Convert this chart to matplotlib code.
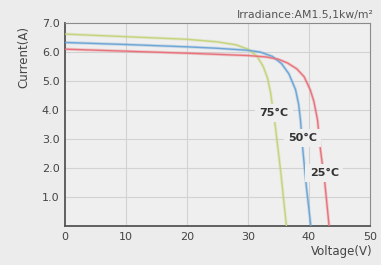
import matplotlib.pyplot as plt

# =========================
# I-V CURVE DATA
# =========================
v_25 = [0, 10, 20, 30, 33, 35, 36.5, 38, 39.2, 40.2, 40.8, 41.4, 41.9, 42.6, 43.3]
i_25 = [6.10, 6.03, 5.96, 5.88, 5.83, 5.75, 5.62, 5.42, 5.15, 4.70, 4.30, 3.66, 2.60, 1.48, 0.0]

v_50 = [0, 10, 20, 25, 30, 32, 34, 35.5, 36.7, 37.8, 38.3, 38.6, 39.0, 39.6, 40.3]
i_50 = [6.33, 6.26, 6.18, 6.13, 6.06, 6.00, 5.85, 5.60, 5.25, 4.70, 4.20, 3.66, 2.60, 1.30, 0.0]

v_75 = [0, 10, 20, 25, 28, 30, 31.5, 32.5, 33.2, 33.7, 34.5, 35.4, 36.3]
i_75 = [6.62, 6.53, 6.44, 6.35, 6.25, 6.10, 5.85, 5.50, 5.10, 4.60, 3.40, 1.80, 0.0]

curves = [
    (v_75, i_75, "#c5d47e", "75°C", (34.3, 3.90)),
    (v_50, i_50, "#6ea6d6", "50°C", (38.9, 3.03)),
    (v_25, i_25, "#e8737c", "25°C", (42.5, 1.83)),
]

x_ticks = [0, 10, 20, 30, 40, 50]
y_ticks = [1.0, 2.0, 3.0, 4.0, 5.0, 6.0, 7.0]

BG = "#ececec"

fig = plt.figure(figsize=(3.81, 2.65), dpi=100, facecolor=BG)
ax = fig.add_axes([0.171, 0.147, 0.800, 0.766], facecolor="#efefef")

for v, i, col, lab, pos in curves:
    ax.plot(v, i, color=col, lw=2.2, alpha=0.3, solid_capstyle="butt", zorder=2)
    ax.plot(v, i, color=col, lw=1.0, zorder=3)
    ax.text(pos[0], pos[1], lab, fontsize=8, fontweight="bold", color="#333333",
            ha="center", va="center", zorder=5,
            bbox=dict(facecolor="#efefef", edgecolor="none", pad=3.0))

ax.set_xlim(0, 50)
ax.set_ylim(0, 7)
ax.set_xticks(x_ticks)
ax.set_yticks(y_ticks)
ax.set_xticklabels([str(t) for t in x_ticks])
ax.set_yticklabels([f"{t:.1f}" for t in y_ticks])
ax.tick_params(length=0, labelsize=8, labelcolor="#444444", pad=4)

for t in x_ticks[1:-1]:
    ax.axvline(t, color="#d2d2d2", lw=0.8, zorder=1)
for t in y_ticks[:-1]:
    ax.axhline(t, color="#d2d2d2", lw=0.8, zorder=1)

ax.spines["left"].set_color("#555555")
ax.spines["bottom"].set_color("#555555")
ax.spines["left"].set_linewidth(1.3)
ax.spines["bottom"].set_linewidth(1.3)
ax.spines["top"].set_color("#8a8a8a")
ax.spines["right"].set_color("#8a8a8a")
ax.spines["top"].set_linewidth(0.8)
ax.spines["right"].set_linewidth(0.8)

fig.text(0.980, 0.945, "Irradiance:AM1.5,1kw/m²", fontsize=7.8, color="#555555",
         ha="right", va="center")
fig.text(0.062, 0.785, "Current(A)", fontsize=8.5, color="#444444",
         rotation=90, ha="center", va="center")
fig.text(0.977, 0.05, "Voltage(V)", fontsize=8.5, color="#444444",
         ha="right", va="center")

plt.savefig("out.png", dpi=100, facecolor=BG)
plt.close()
